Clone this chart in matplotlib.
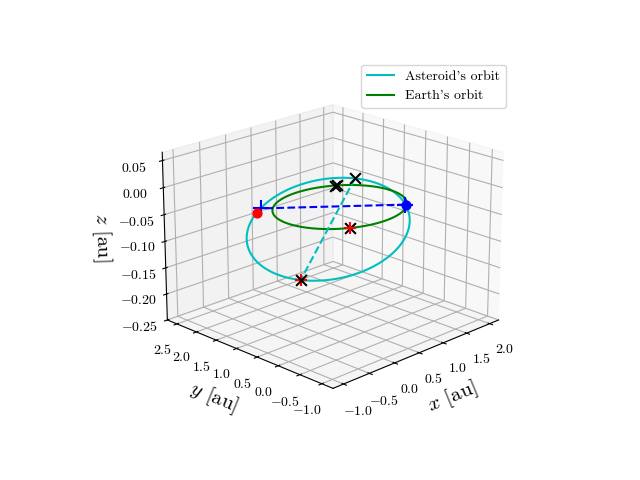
import numpy as np
import matplotlib
matplotlib.use('Agg')
import matplotlib.pyplot as plt

plt.rcParams['font.family'] = 'serif'
plt.rcParams['font.serif'] = ['cmr10']
plt.rcParams['mathtext.fontset'] = 'cm'
plt.rcParams['axes.formatter.use_mathtext'] = True

# orbital elements of the asteroid
a_ast = 1.3
e_ast = 0.42
inc = np.radians(1.7)
Omega = np.radians(315.0)
omega = np.radians(77.0)

x_ticks = [-1.0, -0.5, 0.0, 0.5, 1.0, 1.5, 2.0]
y_ticks = [-1.0, -0.5, 0.0, 0.5, 1.0, 1.5, 2.0, 2.5]
z_ticks = [-0.25, -0.20, -0.15, -0.10, -0.05, 0.00, 0.05]

def orbit_xyz(nu, a, e, i, Om, om):
    r = a*(1-e**2)/(1+e*np.cos(nu))
    u = om + nu
    x = r*(np.cos(Om)*np.cos(u) - np.sin(Om)*np.sin(u)*np.cos(i))
    y = r*(np.sin(Om)*np.cos(u) + np.cos(Om)*np.sin(u)*np.cos(i))
    z = r*np.sin(u)*np.sin(i)
    return x, y, z

nu = np.linspace(0, 2*np.pi, 400)
ax_x, ax_y, ax_z = orbit_xyz(nu, a_ast, e_ast, inc, Omega, omega)
th = np.linspace(0, 2*np.pi, 400)
ex, ey, ez = np.cos(th), np.sin(th), np.zeros_like(th)

# apsides and nodes
per = orbit_xyz(0.0, a_ast, e_ast, inc, Omega, omega)
aph = orbit_xyz(np.pi, a_ast, e_ast, inc, Omega, omega)
n1 = orbit_xyz(-omega, a_ast, e_ast, inc, Omega, omega)
n2 = orbit_xyz(np.pi-omega, a_ast, e_ast, inc, Omega, omega)
# extra points
red_pt = orbit_xyz(np.radians(108), a_ast, e_ast, inc, Omega, omega)
blue_pt = orbit_xyz(np.radians(-78), a_ast, e_ast, inc, Omega, omega)
earth_ang = np.radians([52, 54, 238])

fig = plt.figure(figsize=(6.4, 4.8))
ax = fig.add_subplot(111, projection='3d')
ax.plot(ax_x, ax_y, ax_z, 'c', label="Asteroid's orbit")
ax.plot(ex, ey, ez, 'g', label="Earth's orbit")
ax.plot([n1[0], n2[0]], [n1[1], n2[1]], [n1[2], n2[2]], 'b--+', ms=12, mew=1.5)
ax.plot([per[0], aph[0]], [per[1], aph[1]], [per[2], aph[2]], 'c--')
ax.scatter([aph[0], np.cos(earth_ang[2])], [aph[1], np.sin(earth_ang[2])], [aph[2], 0],
           c='r', marker='+', s=80, depthshade=False)
ax.scatter([per[0], aph[0]], [per[1], aph[1]], [per[2], aph[2]], c='k', marker='x', s=60,
           linewidths=1.5, depthshade=False)
ax.scatter(np.cos(earth_ang), np.sin(earth_ang), np.zeros(3), c='k', marker='x', s=60,
           linewidths=1.5, depthshade=False)
ax.scatter([red_pt[0]], [red_pt[1]], [red_pt[2]], c='r', s=40, depthshade=False)
ax.scatter([blue_pt[0]], [blue_pt[1]], [blue_pt[2]], c='b', s=40, depthshade=False)

ax.set_xticks(x_ticks)
ax.set_yticks(y_ticks)
ax.set_zticks(z_ticks)
ax.set_xlim(-1.2, 2.2)
ax.set_ylim(-1.25, 2.75)
ax.set_zlim(-0.25, 0.065)
ax.set_xlabel(r'$x$ [au]', fontsize=15, labelpad=5)
ax.set_ylabel(r'$y$ [au]', fontsize=15, labelpad=5)
ax.set_zlabel(r'$z$ [au]', fontsize=15, labelpad=5)
ax.view_init(elev=20, azim=-135)
ax.legend(loc='upper right')
plt.savefig('out.png', dpi=100)
